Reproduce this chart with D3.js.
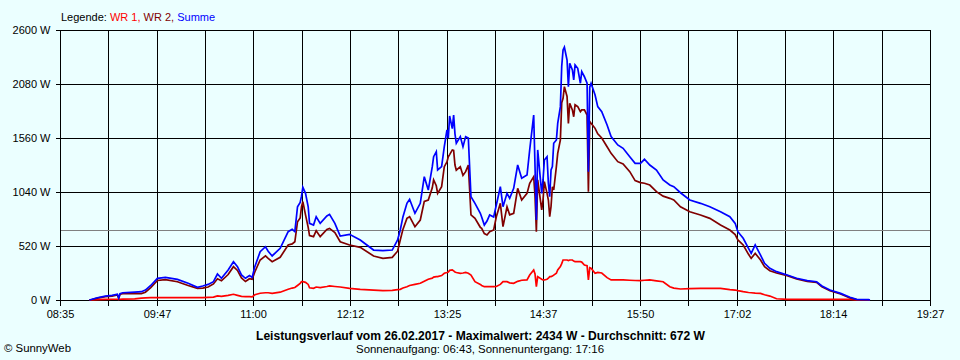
<!DOCTYPE html>
<html>
<head>
<meta charset="utf-8">
<script src="https://cdn.jsdelivr.net/npm/d3@7"></script>
<style>
  html, body { margin: 0; padding: 0; background: #EBFFFF; }
  svg { display: block; }
  text { font-family: "Liberation Sans", Arial, sans-serif; }
</style>
</head>
<body>
<svg id="chart" width="960" height="360"></svg>
<script>
// ---- data ----
const xTickLabels = ["08:35","09:47","11:00","12:12","13:25","14:37","15:50","17:02","18:14","19:27"];
const yTickValues = [0, 520, 1040, 1560, 2080, 2600];
const average = 672;

const times = ["08:57","08:59","09:03","09:09","09:14","09:18","09:19","09:20","09:22","09:31",
"09:36","09:39","09:43","09:48","09:54","10:03","10:11","10:18","10:22","10:26",
"10:30","10:33","10:36","10:41","10:45","10:48","10:51","10:54","10:57","10:59",
"11:01","11:05","11:09","11:11","11:14","11:20","11:26","11:29","11:31","11:33",
"11:35","11:36","11:37","11:39","11:41","11:42","11:45","11:47","11:50","11:55",
"11:57","12:01","12:05","12:12","12:20","12:30","12:37","12:44","12:48","12:50",
"12:52","12:55","12:57","13:01","13:05","13:08","13:11","13:14","13:15","13:17",
"13:18","13:21","13:23","13:25","13:26","13:27","13:29","13:30","13:31","13:32",
"13:35","13:37","13:39","13:41","13:43","13:46","13:50","13:51","13:53","13:55",
"13:57","14:00","14:02","14:05","14:07","14:10","14:12","14:15","14:18","14:21",
"14:25","14:27","14:30","14:31","14:32","14:33","14:36","14:37","14:38","14:40",
"14:41","14:42","14:43","14:44","14:45","14:47","14:48","14:50","14:51","14:52",
"14:53","14:55","14:56","14:57","14:59","15:00","15:01","15:03","15:05","15:06",
"15:08","15:10","15:11","15:12","15:13","15:16","15:18","15:21","15:25","15:28",
"15:33","15:37","15:42","15:46","15:50","15:53","15:57","16:02","16:07","16:12",
"16:15","16:20","16:27","16:35","16:42","16:50","16:57","17:01","17:03","17:07",
"17:11","17:13","17:16","17:20","17:23","17:27","17:32","17:40","17:47","17:55",
"18:02","18:06","18:12","18:20","18:27","18:32","18:41","18:42"];

const summe = [0,7,22,38,45,55,20,62,70,76,
80,95,140,209,218,199,161,122,135,150,
176,250,209,289,369,321,241,209,235,218,
321,465,513,470,424,498,658,680,658,898,
940,1000,1085,1027,898,738,722,802,738,809,
825,738,616,632,578,481,475,481,578,674,
800,931,970,835,931,1187,1059,1284,1380,1428,
1252,1284,1476,1637,1560,1772,1650,1781,1600,1509,
1573,1476,1573,1560,995,931,835,800,722,760,
819,800,915,1091,898,1027,980,1075,1300,1172,
1204,1445,1781,1284,770,1445,1027,1156,1348,1380,
1124,995,1252,1284,1509,1541,1700,1862,2250,2407,
2434,2311,2054,2279,2215,2119,2263,2231,2087,2199,
2150,2087,1236,2050,2087,1974,1862,1813,1685,1573,
1493,1461,1380,1316,1316,1355,1300,1252,1156,1107,
1091,1033,963,931,898,850,802,738,658,594,
498,449,530,433,353,305,273,241,209,186,
176,135,96,64,26,6,4,0];

const wr2 = [0,5,18,32,38,48,15,55,62,64,
62,75,120,188,196,176,140,112,115,125,
155,205,185,245,321,285,212,178,205,200,
270,385,425,400,369,411,530,540,561,754,
790,900,947,820,700,620,610,667,610,680,
690,650,561,530,507,424,401,411,470,578,
680,786,802,706,770,950,963,1080,1156,1100,
1027,1091,1284,1330,1380,1400,1445,1440,1300,1250,
1284,1200,1236,1300,819,786,700,690,640,626,
658,674,802,931,706,898,820,835,1075,963,
1027,1124,1188,1000,658,1156,867,963,1140,1027,
963,802,900,1091,1059,1284,1412,1541,1900,1942,
2054,1960,1701,1894,1830,1765,1880,1862,1813,1830,
1830,1781,1043,1720,1701,1653,1600,1560,1476,1412,
1332,1310,1236,1150,1130,1124,1107,1043,1000,979,
963,898,850,819,786,722,674,630,578,530,
440,401,449,385,321,282,260,235,203,178,
170,128,90,58,20,3,2,0];

const wr1 = [0,2,4,6,7,7,5,7,8,10,
18,20,22,22,22,23,22,22,22,25,
28,40,35,45,55,45,35,32,32,30,
50,65,70,70,64,75,103,115,120,140,
160,176,176,170,150,118,112,125,120,130,
135,130,125,112,103,95,90,92,100,103,
115,128,140,150,161,180,200,210,220,225,
225,235,257,265,270,285,289,280,270,265,
257,260,265,257,240,176,150,140,128,128,
128,128,130,150,176,176,165,161,180,190,
193,240,289,250,128,225,200,193,193,200,
210,225,225,230,240,257,290,321,350,385,
385,385,380,385,385,375,369,369,369,365,
337,330,193,310,305,257,265,260,215,193,
193,193,190,188,186,190,193,185,176,128,
115,106,110,112,112,112,100,96,90,80,
72,70,66,64,50,38,12,6,6,6,
6,6,6,6,6,2,0,0];

// ---- layout ----
const svg = d3.select("#chart");
const plotL = 60, plotR = 930, plotT = 30, plotB = 300;
const tStart = 8 * 60 + 35, tEnd = 19 * 60 + 27;
const toMin = s => { const [h, m] = s.split(":").map(Number); return h * 60 + m; };

const x = d3.scaleLinear().domain([tStart, tEnd]).range([plotL, plotR]);
const y = d3.scaleLinear().domain([0, 2600]).range([plotB, plotT]);

const gridMinutes = d3.range(19).map(i => tStart + i * (tEnd - tStart) / 18);

// grid
const g = svg.append("g").attr("shape-rendering", "crispEdges");
g.selectAll("line.v").data(gridMinutes).enter().append("line")
  .attr("x1", d => Math.round(x(d)) + 0.5).attr("x2", d => Math.round(x(d)) + 0.5)
  .attr("y1", plotT).attr("y2", plotB)
  .attr("stroke", "#000").attr("stroke-width", 1);
g.selectAll("line.h").data(yTickValues).enter().append("line")
  .attr("x1", plotL).attr("x2", plotR + 1)
  .attr("y1", d => Math.round(y(d)) + 0.5).attr("y2", d => Math.round(y(d)) + 0.5)
  .attr("stroke", "#000").attr("stroke-width", 1);

// average line
g.append("line")
  .attr("x1", plotL + 1).attr("x2", plotR)
  .attr("y1", Math.round(y(average)) + 0.5).attr("y2", Math.round(y(average)) + 0.5)
  .attr("stroke", "#808080").attr("stroke-width", 1);

// axes
const xAxis = d3.axisBottom(x).tickValues(gridMinutes)
  .tickFormat((d, i) => i % 2 === 0 ? xTickLabels[i / 2] : "")
  .tickSize(5).tickSizeOuter(0);
const xa = svg.append("g").attr("transform", `translate(0.5,${plotB + 0.5})`).call(xAxis);
xa.select(".domain").remove();
xa.selectAll(".tick").attr("transform", d => `translate(${Math.round(x(d))},0)`);
xa.selectAll("line").attr("stroke", "#000").attr("shape-rendering", "crispEdges");
xa.selectAll("text").attr("font-size", 11).attr("fill", "#000")
  .attr("font-family", "Liberation Sans, Arial, sans-serif").attr("y", 10);

const yAxis = d3.axisLeft(y).tickValues(yTickValues).tickFormat(d => d + " W")
  .tickSize(5).tickSizeOuter(0);
const ya = svg.append("g").attr("transform", `translate(${plotL + 0.5},0.5)`).call(yAxis);
ya.select(".domain").remove();
ya.selectAll(".tick").attr("transform", d => `translate(0,${Math.round(y(d))})`);
ya.selectAll("line").attr("stroke", "#000").attr("shape-rendering", "crispEdges");
ya.selectAll("text").attr("font-size", 11).attr("fill", "#000")
  .attr("font-family", "Liberation Sans, Arial, sans-serif").attr("x", -10);

// series
const pts = times.map(toMin);
const line = vals => d3.line().x((d, i) => x(pts[i])).y(d => y(d))(vals);
const series = [
  { vals: wr1, color: "#FF0000" },
  { vals: wr2, color: "#800000" },
  { vals: summe, color: "#0000FF" }
];
svg.append("g").selectAll("path").data(series).enter().append("path")
  .attr("d", d => line(d.vals))
  .attr("fill", "none").attr("stroke", d => d.color)
  .attr("stroke-width", 1.7).attr("stroke-linejoin", "miter");

// legend
const legend = svg.append("text").attr("x", 61).attr("y", 21).attr("font-size", 11);
legend.append("tspan").attr("fill", "#000").text("Legende: ");
legend.append("tspan").attr("fill", "#FF0000").text("WR 1, ");
legend.append("tspan").attr("fill", "#800000").text("WR 2, ");
legend.append("tspan").attr("fill", "#0000FF").text("Summe");

// titles
svg.append("text").attr("x", 256).attr("y", 340)
  .attr("font-size", 12).attr("font-weight", "bold").attr("fill", "#000")
  .attr("textLength", 449).attr("lengthAdjust", "spacingAndGlyphs")
  .text("Leistungsverlauf vom 26.02.2017 - Maximalwert: 2434 W - Durchschnitt: 672 W");
svg.append("text").attr("x", 356).attr("y", 353)
  .attr("font-size", 11).attr("fill", "#000")
  .attr("textLength", 248).attr("lengthAdjust", "spacingAndGlyphs")
  .text("Sonnenaufgang: 06:43, Sonnenuntergang: 17:16");
svg.append("text").attr("x", 4).attr("y", 352)
  .attr("font-size", 10).attr("fill", "#000")
  .attr("textLength", 67).attr("lengthAdjust", "spacingAndGlyphs")
  .text("© SunnyWeb");
</script>
</body>
</html>
